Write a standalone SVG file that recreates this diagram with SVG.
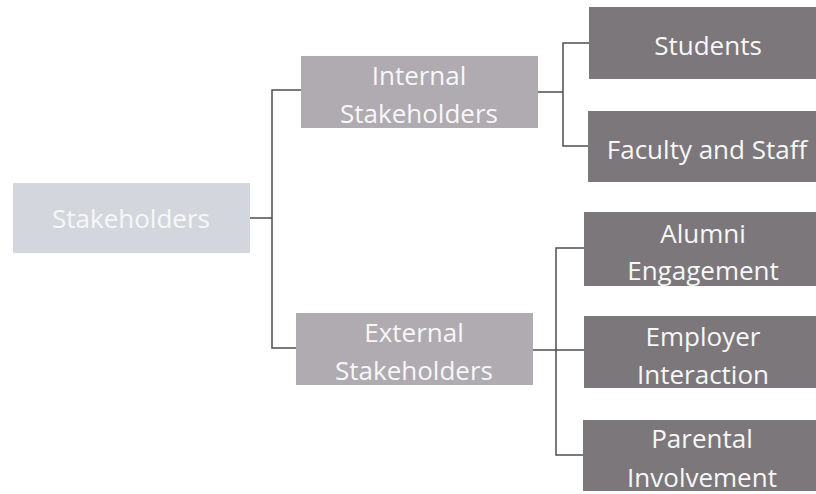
<svg xmlns="http://www.w3.org/2000/svg" width="816" height="494" viewBox="0 0 816 494">
  <style>
    .lbl { font-family: "Open Sans", "Liberation Sans", sans-serif; font-size: 26px; fill: #f7f7f7; text-anchor: middle; }
    .root { fill: #d4d6dd; }
    .mid { fill: #afabb1; }
    .leaf { fill: #7b777b; }
    .wire { fill: none; stroke: #4e4e4e; stroke-width: 1.5; }
  </style>
  <rect width="816" height="494" fill="#ffffff"/>

  <!-- connectors -->
  <g id="connectors">
    <path class="wire" d="M250 218 H272 M301 90 H272 V348 H296"/>
    <path class="wire" d="M538 92 H563 M589 43 H563 V146 H588"/>
    <path class="wire" d="M533 350 H584 M584 248 H556 V455 H583"/>
  </g>

  <g id="stakeholders">
    <rect class="root" x="13" y="183" width="237" height="70"/>
    <text class="lbl" x="131" y="228">Stakeholders</text>
  </g>

  <g id="internal">
    <rect class="mid" x="301" y="56" width="237" height="72"/>
    <text class="lbl" x="419" y="85">Internal</text>
    <text class="lbl" x="419" y="123">Stakeholders</text>
  </g>

  <g id="external">
    <rect class="mid" x="296" y="313" width="237" height="72"/>
    <text class="lbl" x="414" y="342">External</text>
    <text class="lbl" x="414" y="380">Stakeholders</text>
  </g>

  <g id="students">
    <rect class="leaf" x="589" y="7" width="227" height="72"/>
    <text class="lbl" x="708" y="55">Students</text>
  </g>

  <g id="faculty">
    <rect class="leaf" x="588" y="111" width="228" height="71"/>
    <text class="lbl" x="707" y="159">Faculty and Staff</text>
  </g>

  <g id="alumni">
    <rect class="leaf" x="584" y="212" width="232" height="74"/>
    <text class="lbl" x="703" y="243">Alumni</text>
    <text class="lbl" x="703" y="280">Engagement</text>
  </g>

  <g id="employer">
    <rect class="leaf" x="584" y="316" width="232" height="72"/>
    <text class="lbl" x="703" y="346">Employer</text>
    <text class="lbl" x="703" y="384">Interaction</text>
  </g>

  <g id="parental">
    <rect class="leaf" x="583" y="420" width="233" height="71"/>
    <text class="lbl" x="702" y="448">Parental</text>
    <text class="lbl" x="702" y="487">Involvement</text>
  </g>
</svg>
